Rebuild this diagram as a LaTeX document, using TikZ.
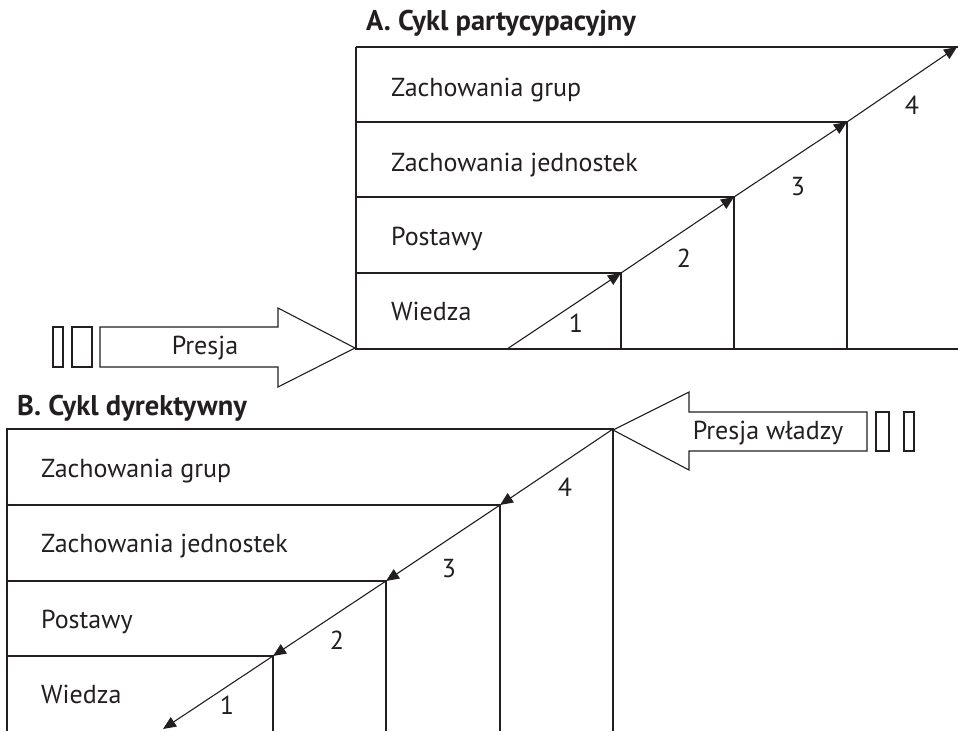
\documentclass[tikz,border=0pt]{standalone}
\usepackage{fontspec}
\setmainfont{PT Sans}
\usetikzlibrary{arrows.meta}
\definecolor{ink}{HTML}{231F20}
\begin{document}
\begin{tikzpicture}[x=1pt,y=-1pt,
  line/.style={line width=1.1pt, draw=ink},
  flow/.style={line width=1.1pt, draw=ink, -{Triangle[length=13pt,width=11pt]}},
  lbl/.style={anchor=base west, inner sep=0pt, font=\fontsize{26}{30}\selectfont, text=ink},
  num/.style={inner sep=0pt, font=\fontsize{26}{30}\selectfont, text=ink},
  ttl/.style={anchor=base west, inner sep=0pt, font=\fontsize{28.5}{32}\selectfont\bfseries, text=ink},
  ]
\useasboundingbox (0,0) rectangle (958,731);

% ---------- A ----------
\node[ttl] (tA) at (366,30) {A. Cykl partycypacyjny};
\draw[line] (356,47) -- (958,47);
\draw[line] (356,47) -- (356,349) -- (958,349);
\draw[line] (356,122) -- (847,122) -- (847,349);
\draw[line] (356,197) -- (734,197) -- (734,349);
\draw[line] (356,273) -- (621,273) -- (621,349);
\node[lbl] (a4) at (391,96) {Zachowania grup};
\node[lbl] (a3) at (391,171) {Zachowania jednostek};
\node[lbl] (a2) at (391,245) {Postawy};
\node[lbl] (a1) at (391,320) {Wiedza};
\coordinate (A0) at (507,349);
\coordinate (A1) at (621,273);
\coordinate (A2) at (734,197);
\coordinate (A3) at (847,122);
\coordinate (A4) at (957,47);
\draw[flow] (A0) -- (A1);
\draw[flow] (A1) -- (A2);
\draw[flow] (A2) -- (A3);
\draw[flow] (A3) -- (A4);
\node[num] (n1) at (576,323) {1};
\node[num] (n2) at (684,258) {2};
\node[num] (n3) at (798,187) {3};
\node[num] (n4) at (912,105) {4};

% Presja arrow
\draw[line] (53,327) rectangle (63,367);
\draw[line] (72,327) rectangle (92,367);
\draw[line] (100,327) -- (278,327) -- (278,308) -- (355,348) -- (278,387) -- (278,367) -- (100,367) -- cycle;
\node[num] (pA) at (205,348) {Presja};

% ---------- B ----------
\node[ttl] (tB) at (17,415) {B. Cykl dyrektywny};
\draw[line] (7,731) -- (7,429) -- (613,429) -- (613,731);
\draw[line] (7,505) -- (500,505) -- (500,731);
\draw[line] (7,581) -- (386,581) -- (386,731);
\draw[line] (7,656) -- (273,656) -- (273,731);
\node[lbl] (b4) at (41,477) {Zachowania grup};
\node[lbl] (b3) at (41,552) {Zachowania jednostek};
\node[lbl] (b2) at (41,628) {Postawy};
\node[lbl] (b1) at (41,703) {Wiedza};
\coordinate (B0) at (613,429);
\coordinate (B1) at (500,505);
\coordinate (B2) at (386,581);
\coordinate (B3) at (273,656);
\coordinate (B4) at (163,729);
\draw[flow] (B0) -- (B1);
\draw[flow] (B1) -- (B2);
\draw[flow] (B2) -- (B3);
\draw[flow] (B3) -- (B4);
\node[num] (m4) at (565,487) {4};
\node[num] (m3) at (449,569) {3};
\node[num] (m2) at (337,640) {2};
\node[num] (m1) at (227,705) {1};

% Presja wladzy arrow
\draw[line] (613,430) -- (689,392) -- (689,412) -- (867,412) -- (867,451) -- (689,451) -- (689,470) -- cycle;
\draw[line] (876,412) rectangle (889,451);
\draw[line] (904,412) rectangle (914,451);
\node[num] (pB) at (768,433) {Presja władzy};
\end{tikzpicture}
\end{document}
